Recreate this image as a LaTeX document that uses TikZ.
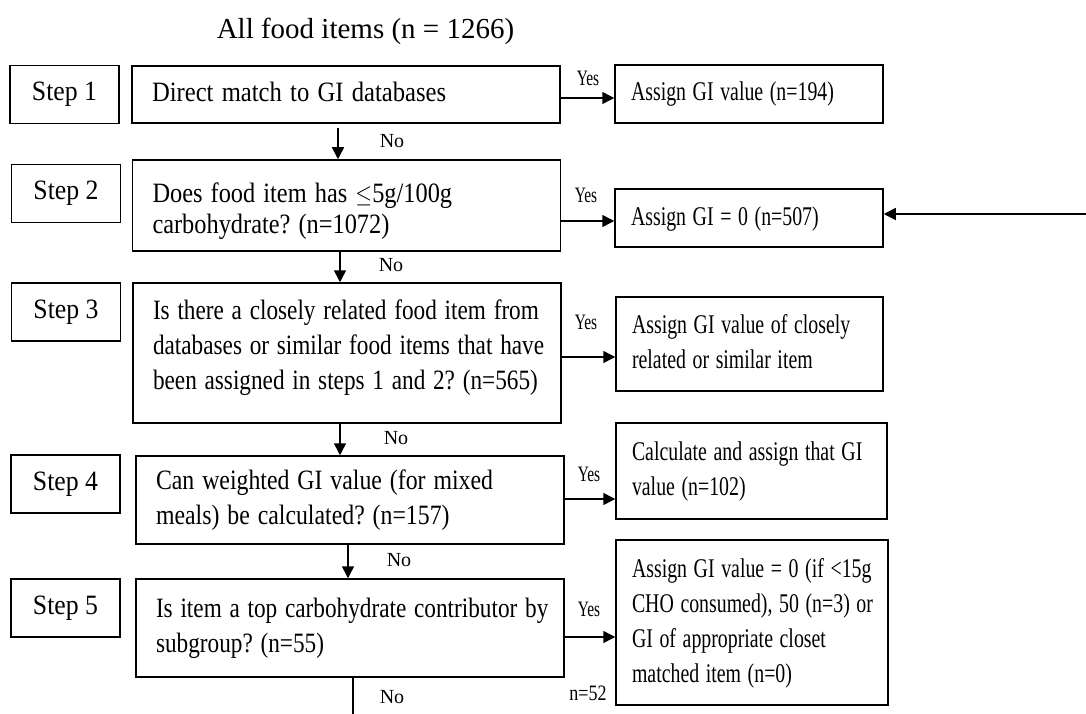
\documentclass[tikz,border=0pt]{standalone}
\usepackage{fontspec}
\usepackage{graphicx}
\setmainfont{Liberation Serif}
\usetikzlibrary{arrows.meta}
\frenchspacing
\newcommand\qml[2]{\scalebox{#1}[1]{\begin{tabular}{@{}l@{}}#2\end{tabular}}}
\newcommand\aml[1]{\scalebox{0.735}[1]{\begin{tabular}{@{}l@{}}#1\end{tabular}}}
\begin{document}
\begin{tikzpicture}[x=1pt,y=-1pt,
 box/.style={draw, line width=1.5pt, inner sep=0pt},
 stepbox/.style={box, minimum width=109pt, minimum height=58pt, font=\fontsize{28}{35}\selectfont},
 qbox/.style={box, inner xsep=20pt, text width=388pt, align=left, font=\fontsize{28}{35}\selectfont},
 abox/.style={box, inner xsep=16pt, align=left, font=\fontsize{27}{35}\selectfont},
 yeslab/.style={font=\fontsize{22}{26}\selectfont, anchor=base, inner sep=0pt},
 nolab/.style={font=\fontsize{20}{24}\selectfont, anchor=base, inner sep=0pt},
 arr/.style={line width=1.5pt, -{Triangle[length=12pt,width=12pt]}},
 ln/.style={line width=1.5pt}]
\useasboundingbox[fill=white] (0,0) rectangle (1086,714);

\node[font=\fontsize{29}{34}\selectfont, anchor=base, inner sep=0pt] (title) at (365.5,39) {All food items (n = 1266)};

% step boxes
\node[stepbox] (s1) at (64.5,94.5) {\scalebox{0.92}[1]{Step 1}};
\node[stepbox] (s2) at (66,193.5) {\scalebox{0.92}[1]{Step 2}};
\node[stepbox] (s3) at (66,312) {\scalebox{0.92}[1]{Step 3}};
\node[stepbox] (s4) at (65.5,484) {\scalebox{0.92}[1]{Step 4}};
\node[stepbox] (s5) at (65.5,608) {\scalebox{0.92}[1]{Step 5}};

% question boxes
\node[qbox, minimum height=57pt] (b1) at (346,94.5) {\qml{0.88}{Direct match to GI databases}};
\node[qbox, minimum height=91pt, font=\fontsize{28}{30}\selectfont] (b2) at (346.5,205.5) {\raisebox{-6.5pt}[\height][\depth]{\qml{0.87}{Does food item has \(\leq\)5g/100g\\carbohydrate? (n=1072)}}};
\node[qbox, minimum height=140pt] (b3) at (347,353) {\raisebox{5.5pt}[\height][\depth]{\qml{0.83}{Is there a closely related food item from\\databases or similar food items that have\\been assigned in steps 1 and 2? (n=565)}}};
\node[qbox, minimum height=88pt] (b4) at (350,500) {\qml{0.85}{Can weighted GI value (for mixed\\meals) be calculated? (n=157)}};
\node[qbox, minimum height=98pt] (b5) at (350,628) {\qml{0.83}{Is item a top carbohydrate contributor by\\subgroup? (n=55)}};

% assignment boxes
\node[abox, text width=236pt, minimum height=58pt] (r1) at (749,94) {\aml{Assign GI value (n=194)}};
\node[abox, text width=236pt, minimum height=58pt] (r2) at (749,218) {\aml{Assign GI = 0 (n=507)}};
\node[abox, text width=235pt, minimum height=94pt] (r3) at (749.5,344) {\aml{Assign GI value of closely\\related or similar item}};
\node[abox, text width=239pt, minimum height=96pt] (r4) at (751.5,471) {\aml{Calculate and assign that GI\\value (n=102)}};
\node[abox, text width=240pt, minimum height=165pt] (r5) at (752,622.5) {\aml{Assign GI value = 0 (if \textless15g\\CHO consumed), 50 (n=3) or\\GI of appropriate closet\\matched item (n=0)}};

% Yes connectors
\coordinate (y1) at ([yshift=-3.5pt]b1.east);
\draw[arr] (y1) -- (y1 -| r1.west);
\coordinate (y2) at ([yshift=-15.5pt]b2.east);
\draw[arr] (y2) -- (y2 -| r2.west);
\coordinate (y3) at ([yshift=-4pt]b3.east);
\draw[arr] (y3) -- (y3 -| r3.west);
\coordinate (y4) at ([yshift=1pt]b4.east);
\draw[arr] (y4) -- (y4 -| r4.west);
\coordinate (y5) at ([yshift=-9pt]b5.east);
\draw[arr] (y5) -- (y5 -| r5.west);

% incoming arrow on the right
\coordinate (in2) at (1086,214);
\draw[arr] (in2) -- (in2 -| r2.east);

% No connectors
\coordinate (n1) at ([xshift=-8pt,yshift=-4pt]b1.south);
\draw[arr] (n1) -- (n1 |- b2.north);
\coordinate (n2) at ([xshift=-6.5pt]b2.south);
\draw[arr] (n2) -- (n2 |- b3.north);
\coordinate (n3) at ([xshift=-7pt]b3.south);
\draw[arr] (n3) -- (n3 |- b4.north);
\coordinate (n4) at ([xshift=-2pt]b4.south);
\draw[arr] (n4) -- (n4 |- b5.north);
\coordinate (n5) at (353,714);
\draw[ln] (n5 |- b5.south) -- (n5);

% labels
\node[yeslab] (ly1) at (588,86) {\scalebox{0.7}[1]{Yes}};
\node[yeslab] (ly2) at (586,203) {\scalebox{0.7}[1]{Yes}};
\node[yeslab] (ly3) at (586,329.5) {\scalebox{0.7}[1]{Yes}};
\node[yeslab] (ly4) at (589,481.5) {\scalebox{0.7}[1]{Yes}};
\node[yeslab] (ly5) at (589,616.5) {\scalebox{0.7}[1]{Yes}};
\node[yeslab] (l52) at (588,700) {\scalebox{0.82}[1]{n=52}};
\node[nolab] (ln1) at (392,148) {No};
\node[nolab] (ln2) at (391,271.5) {No};
\node[nolab] (ln3) at (396,444.5) {No};
\node[nolab] (ln4) at (399,566.5) {No};
\node[nolab] (ln5) at (392,703) {No};
\end{tikzpicture}
\end{document}
